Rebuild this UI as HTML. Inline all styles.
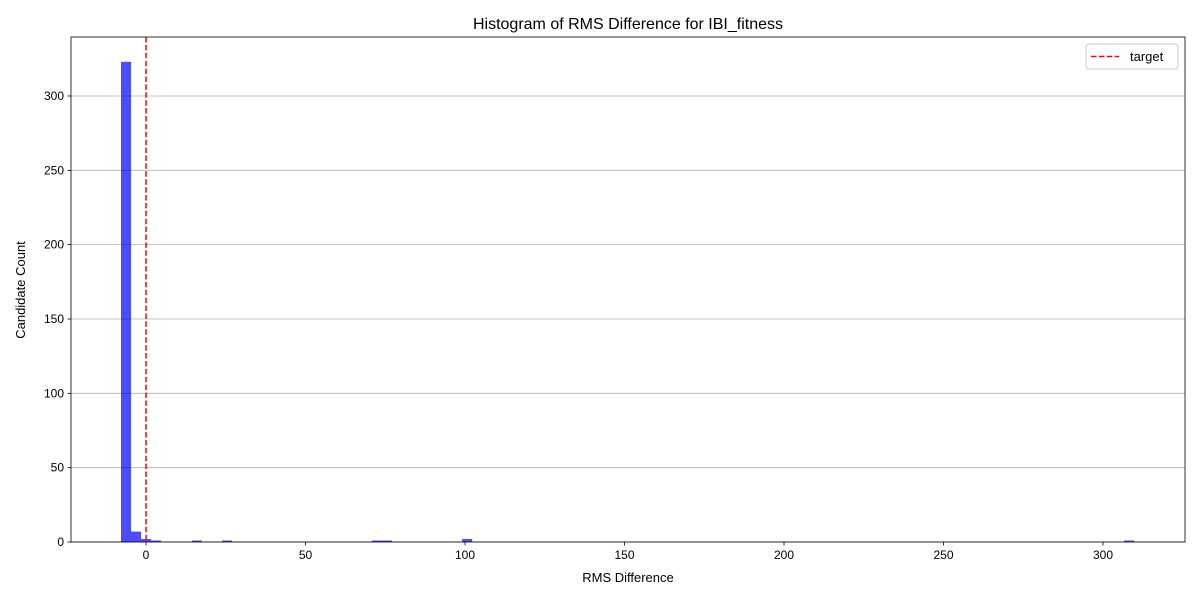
<!DOCTYPE html>
<html><head><meta charset="utf-8"><style>
body{margin:0;background:#fff;font-family:"Liberation Sans","DejaVu Sans",sans-serif;}
</style></head><body>
<svg id="chart" width="1200" height="600" xmlns="http://www.w3.org/2000/svg" font-family="Liberation Sans, DejaVu Sans, sans-serif"></svg>
<script>
const binLefts=[-7.84,-4.7,-1.57,1.57,14.4,23.8,70.8,74.0,99.1,306.6];
const binCounts=[323,7,2,1,1,1,1,1,2,1];
const binWidth=3.15;
const xTicks=[0,50,100,150,200,250,300];
const yTicks=[0,50,100,150,200,250,300];
const targetValue=0;
const L=71,R=1185,T=37,B=542;
const xs=v=>146+v*3.19;
const ys=v=>B-v*1.4867;
const svg=document.getElementById('chart');
const NS='http://www.w3.org/2000/svg';
function mk(tag,attrs,parent){const e=document.createElementNS(NS,tag);for(const k in attrs)e.setAttribute(k,attrs[k]);(parent||svg).appendChild(e);return e;}
// grid
yTicks.forEach(t=>{
 const g=mk('line',{x1:L,x2:R,y1:ys(t),y2:ys(t),stroke:'#b0b0b0','stroke-width':0.8});
 
 
});
// bars
binLefts.forEach((v,i)=>{
 const x0=xs(v),x1=xs(v+binWidth);
 const r=mk('rect',{x:x0,y:ys(binCounts[i]),width:x1-x0,height:B-ys(binCounts[i]),fill:'#0000ff','fill-opacity':0.7});
 
 
});
// target line
const tl=mk('line',{x1:xs(targetValue),x2:xs(targetValue),y1:T,y2:B,stroke:'#ff0000','stroke-width':1.5,'stroke-dasharray':'5.5,2.4'});


// frame
const fr=mk('rect',{x:L,y:T,width:R-L,height:B-T,fill:'none',stroke:'#000','stroke-width':0.8});


// ticks
xTicks.forEach(t=>{
 const l=mk('line',{x1:xs(t),x2:xs(t),y1:B,y2:B+3.5,stroke:'#000','stroke-width':0.8});
 
 
 const tx=mk('text',{x:xs(t),y:B+17,'font-size':12,'text-anchor':'middle'});
 tx.textContent=t;
 
 
});
yTicks.forEach(t=>{
 const l=mk('line',{x1:L-3.5,x2:L,y1:ys(t),y2:ys(t),stroke:'#000','stroke-width':0.8});
 
 
 const tx=mk('text',{x:L-7,y:ys(t)+4,'font-size':12,'text-anchor':'end'});
 tx.textContent=t;
 
 
});
const title=mk('text',{x:628,y:29,'font-size':16,'text-anchor':'middle'});
title.textContent='Histogram of RMS Difference for IBI_fitness';


const xl=mk('text',{x:628,y:582,'font-size':13,'text-anchor':'middle'});
xl.textContent='RMS Difference';


const yl=mk('text',{x:25,y:290,'font-size':13,'text-anchor':'middle',transform:'rotate(-90 25 290)'});
yl.textContent='Candidate Count';


// legend
const lg=mk('g',{});


mk('rect',{x:1086,y:44,width:92,height:25,rx:3,fill:'#fff',stroke:'#ccc','stroke-width':1},lg);
mk('line',{x1:1091,x2:1119,y1:56.5,y2:56.5,stroke:'#ff0000','stroke-width':1.5,'stroke-dasharray':'5.5,2.4'},lg);
const lt=mk('text',{x:1130,y:61,'font-size':13},lg);
lt.textContent='target';


</script>
</body></html>
